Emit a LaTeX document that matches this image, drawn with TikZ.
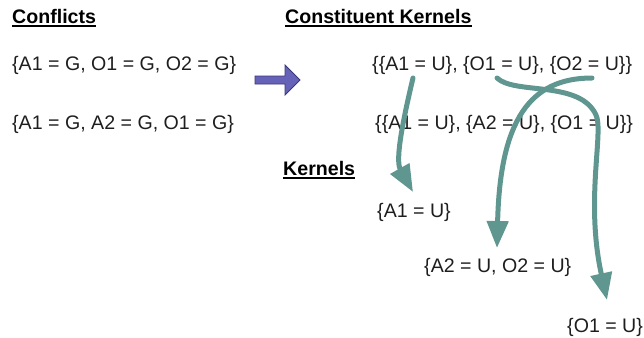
\documentclass[tikz,border=0pt]{standalone}
\usepackage{fontspec}
\setmainfont{Liberation Sans}
\usetikzlibrary{arrows.meta}
\definecolor{txt}{RGB}{30,30,30}
\definecolor{tealc}{RGB}{95,150,143}
\definecolor{bfill}{RGB}{102,98,184}
\definecolor{bedge}{RGB}{58,56,120}
\begin{document}
\begin{tikzpicture}[x=1bp,y=-1bp,
  lbl/.style={anchor=base west, inner sep=0pt, text=txt, font=\fontsize{19.6bp}{24bp}\selectfont},
  ttl/.style={anchor=base west, inner sep=0pt, text=black, font=\fontsize{19.6bp}{24bp}\selectfont\bfseries},
  uline/.style={line width=1.6bp, black},
  link/.style={tealc, line width=5bp, line cap=round, -{Triangle[length=27bp,width=21bp]}}]
\useasboundingbox (0,0) rectangle (644,337);
% titles
\node[ttl] (t1) at (12,23) {Conflicts};
\node[ttl] (t2) at (285,23) {Constituent Kernels};
\node[ttl] (t3) at (283,175) {Kernels};
\foreach \n in {t1,t2,t3}
  \draw[uline] ([yshift=-2.8bp]\n.base west) -- ([yshift=-2.8bp]\n.base east);
% conflicts
\node[lbl] (c1) at (12,70) {\{A1 = G, O1 = G, O2 = G\}};
\node[lbl] (c2) at (12,129) {\{A1 = G, A2 = G, O1 = G\}};
% constituent kernels
\node[lbl] (ck1) at (372,70) {\{\{A1 = U\}, \{O1 = U\}, \{O2 = U\}\}};
\node[lbl] (ck2) at (375,129) {\{\{A1 = U\}, \{A2 = U\}, \{O1 = U\}\}};
% kernels
\node[lbl] (k1) at (377,217) {\{A1 = U\}};
\node[lbl] (k2) at (424,272) {\{A2 = U, O2 = U\}};
\node[lbl] (k3) at (567,332) {\{O1 = U\}};
% block arrow
\draw[fill=bfill, draw=bedge, line width=0.8bp]
  (255,76) -- (285,76) -- (285,65) -- (300,80) -- (285,95) -- (285,84) -- (255,84) -- cycle;
% connectors
\coordinate (s1) at (413,78);
\coordinate (s2) at (497,78);
\coordinate (s3) at (592,78);
\coordinate (e1) at (413,192);
\coordinate (e2) at (607,300);
\coordinate (e3) at (497,248);
\draw[link] (s1) .. controls (403,120) and (395,160) .. (e1);
\draw[link] (s3) .. controls (530,78) and (500,120) .. (e3);
\draw[link] (s2) .. controls (515,95) and (580,80) .. (596,115)
  .. controls (604,132) and (585,200) .. (e2);
\end{tikzpicture}
\end{document}
